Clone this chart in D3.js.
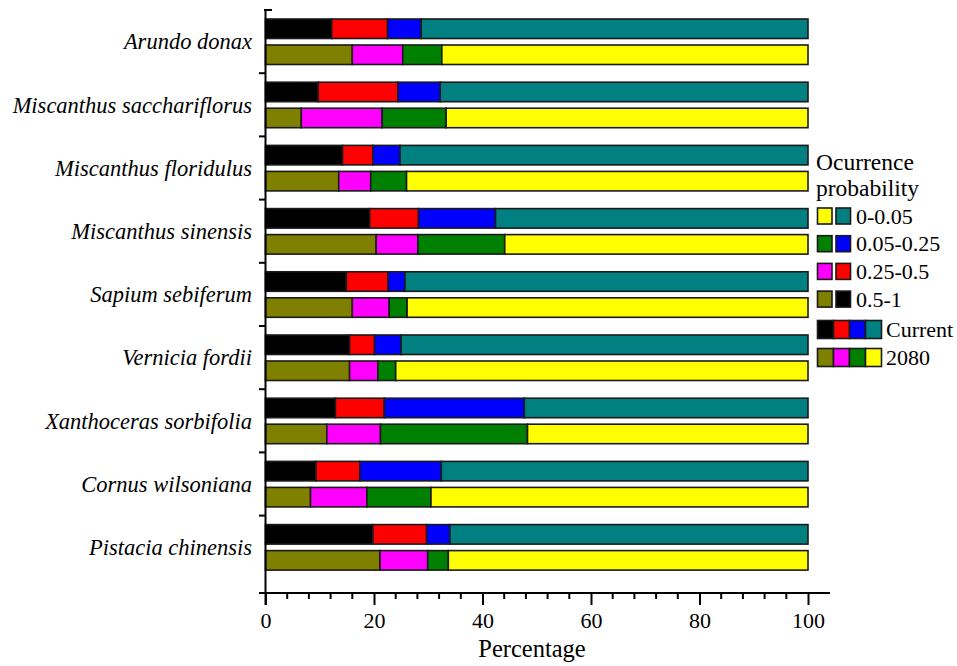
<!DOCTYPE html>
<html>
<head>
<meta charset="utf-8">
<script src="https://cdn.jsdelivr.net/npm/d3@7"></script>
<style>
  body { margin: 0; background: #fff; }
</style>
</head>
<body>
<svg id="chart" width="957" height="666"></svg>
<script>
// ---- Data ----
const species = ["Arundo donax", "Miscanthus sacchariflorus", "Miscanthus floridulus",
  "Miscanthus sinensis", "Sapium sebiferum", "Vernicia fordii",
  "Xanthoceras sorbifolia", "Cornus wilsoniana", "Pistacia chinensis"];
const periods = ["Current", "2080"];
const classes = ["0.5-1", "0.25-0.5", "0.05-0.25", "0-0.05"];
// Percent of area in each probability class (order: 0.5-1, 0.25-0.5, 0.05-0.25, 0-0.05)
const current_05_1    = [12.2,  9.7, 14.2, 19.2, 14.9, 15.5, 12.9,  9.3, 19.8];
const current_025_05  = [10.3, 14.7,  5.6,  9.0,  7.7,  4.6,  9.0,  8.1,  9.9];
const current_005_025 = [ 6.2,  7.8,  5.0, 14.2,  3.1,  4.9, 25.8, 15.0,  4.3];
const current_0_005   = [71.3, 67.8, 75.2, 57.6, 74.3, 75.0, 52.3, 67.6, 66.0];
const future_05_1     = [16.0,  6.6, 13.5, 20.4, 16.0, 15.5, 11.3,  8.3, 21.1];
const future_025_05   = [ 9.3, 14.9,  5.9,  7.7,  6.8,  5.2,  9.9, 10.4,  8.8];
const future_005_025  = [ 7.2, 11.8,  6.6, 16.0,  3.3,  3.3, 27.1, 11.8,  3.8];
const future_0_005    = [67.5, 66.7, 74.0, 55.9, 73.9, 76.0, 51.7, 69.5, 66.3];
const currentColors = ["#000000", "#ff0000", "#0000ff", "#008080"];
const futureColors  = ["#808000", "#ff00ff", "#008000", "#ffff00"];
const xTicks = [0, 20, 40, 60, 80, 100];
const legendLabels = ["0-0.05", "0.05-0.25", "0.25-0.5", "0.5-1"];

const FONT = "Liberation Serif";

// ---- Build rows ----
const rows = [];
species.forEach((s, i) => {
  rows.push({ species: s, period: "Current", "0.5-1": current_05_1[i], "0.25-0.5": current_025_05[i], "0.05-0.25": current_005_025[i], "0-0.05": current_0_005[i] });
  rows.push({ species: s, period: "2080", "0.5-1": future_05_1[i], "0.25-0.5": future_025_05[i], "0.05-0.25": future_005_025[i], "0-0.05": future_0_005[i] });
});
const stacked = d3.stack().keys(classes)(rows);

const svg = d3.select("#chart");
const x = d3.scaleLinear().domain([0, 100]).range([265.5, 808]);
const y = d3.scaleBand().domain(species).range([10, 10 + 63.2 * 9]).paddingInner(0).paddingOuter(0);
const yInner = d3.scaleBand().domain(periods).range([9, 54.5]).paddingInner(0.25).paddingOuter(0);

// ---- Bars ----
const g = svg.append("g");
stacked.forEach((layer, k) => {
  g.selectAll(null).data(layer).enter().append("rect")
    .attr("x", d => x(d[0]))
    .attr("width", d => x(d[1]) - x(d[0]))
    .attr("y", d => y(d.data.species) + yInner(d.data.period))
    .attr("height", yInner.bandwidth())
    .attr("fill", d => d.data.period === "Current" ? currentColors[k] : futureColors[k])
    .attr("stroke", "#1a1a1a")
    .attr("stroke-width", 1.6);
});

// ---- Y axis ----
const axisY = 593;
svg.append("line").attr("x1", 265.5).attr("x2", 265.5).attr("y1", 9).attr("y2", 605)
  .attr("stroke", "#000").attr("stroke-width", 2);
species.forEach((s, i) => {
  const ty = y(s);
  if (i === 0) {
    svg.append("line").attr("x1", 264).attr("x2", 272).attr("y1", ty).attr("y2", ty).attr("stroke", "#000").attr("stroke-width", 2);
  } else {
    svg.append("line").attr("x1", 259).attr("x2", 265.5).attr("y1", ty).attr("y2", ty).attr("stroke", "#000").attr("stroke-width", 2);
  }
});
svg.append("g").selectAll("text").data(species).enter().append("text")
  .attr("x", 252).attr("y", d => y(d) + 31.5).attr("dy", "0.35em")
  .attr("text-anchor", "end").attr("font-style", "italic").attr("font-size", 22.5)
  .style("font-family", FONT)
  .text(d => d);

// ---- X axis ----
const xAxis = d3.axisBottom(x).tickValues(xTicks).tickSize(12).tickPadding(7).tickFormat(d3.format("d"));
const gx = svg.append("g").attr("transform", `translate(0,${axisY})`).call(xAxis);
gx.attr("font-family", null);
gx.select(".domain").remove();
gx.selectAll(".tick line").attr("stroke-width", 2);
gx.selectAll(".tick text").attr("font-size", 22).style("font-family", FONT).attr("fill", "#000");
const minor = d3.range(0, 101, 4).filter(v => v % 20 !== 0);
svg.append("g").selectAll("line").data(minor).enter().append("line")
  .attr("x1", d => x(d)).attr("x2", d => x(d)).attr("y1", axisY).attr("y2", axisY + 6)
  .attr("stroke", "#000").attr("stroke-width", 2);
svg.append("line").attr("x1", 259).attr("x2", 830).attr("y1", axisY).attr("y2", axisY)
  .attr("stroke", "#000").attr("stroke-width", 2);
svg.append("text").attr("x", 532).attr("y", 657).attr("text-anchor", "middle")
  .attr("font-size", 24.5).style("font-family", FONT).text("Percentage");

// ---- Legend ----
const lg = svg.append("g");
lg.append("text").attr("x", 816).attr("y", 170).attr("font-size", 23.5).style("font-family", FONT).text("Ocurrence");
lg.append("text").attr("x", 816).attr("y", 196).attr("font-size", 23.5).style("font-family", FONT).text("probability");
const fLegend = futureColors.slice().reverse();
const cLegend = currentColors.slice().reverse();
legendLabels.forEach((lab, i) => {
  const ty = 208 + i * 27.7;
  lg.append("rect").attr("x", 817.5).attr("y", ty).attr("width", 14.5).attr("height", 16)
    .attr("fill", fLegend[i]).attr("stroke", "#1a1a1a").attr("stroke-width", 1.6);
  lg.append("rect").attr("x", 836).attr("y", ty).attr("width", 14.5).attr("height", 16)
    .attr("fill", cLegend[i]).attr("stroke", "#1a1a1a").attr("stroke-width", 1.6);
  lg.append("text").attr("x", 856).attr("y", ty + 8).attr("dy", "0.35em").attr("font-size", 22)
    .style("font-family", FONT).text(lab);
});
[[currentColors, "Current", 320.5], [futureColors, "2080", 348.5]].forEach(([cols, lab, ty]) => {
  cols.forEach((c, j) => {
    lg.append("rect").attr("x", 817.5 + j * 16).attr("y", ty).attr("width", 16).attr("height", 18)
      .attr("fill", c).attr("stroke", "#1a1a1a").attr("stroke-width", 1.6);
  });
  lg.append("text").attr("x", 886).attr("y", ty + 9).attr("dy", "0.35em").attr("font-size", 22)
    .style("font-family", FONT).text(lab);
});
</script>
</body>
</html>
